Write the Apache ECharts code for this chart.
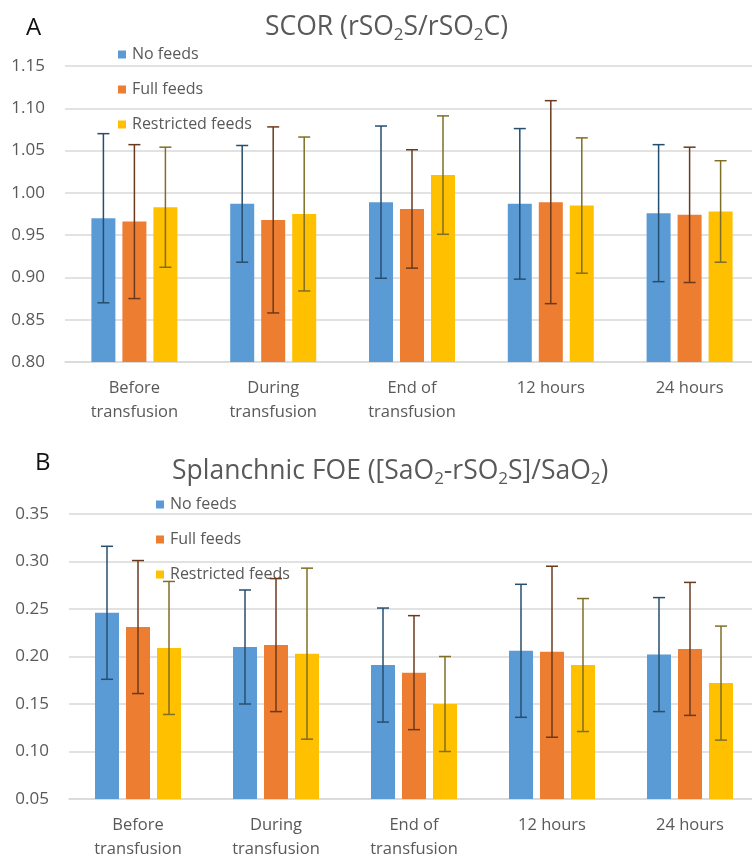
<!DOCTYPE html>
<html>
<head>
<meta charset="utf-8">
<style>
  html, body { margin: 0; padding: 0; background: #fff; }
  #chart { width: 752px; height: 857px; }
</style>
<script src="https://cdn.jsdelivr.net/npm/echarts@6/dist/echarts.min.js"></script>
</head>
<body>
<div id="chart"></div>
<script>
// categories and group names
const categories = ['Before\ntransfusion', 'During\ntransfusion', 'End of\ntransfusion', '12 hours', '24 hours'];
const groups = ['No feeds', 'Full feeds', 'Restricted feeds'];

// panel A: SCOR means and SD
const scorNo = [0.970, 0.987, 0.989, 0.987, 0.976];
const scorFull = [0.966, 0.968, 0.981, 0.989, 0.974];
const scorRestr = [0.983, 0.975, 1.021, 0.985, 0.978];
const scorNoSd = [0.100, 0.069, 0.090, 0.089, 0.081];
const scorFullSd = [0.091, 0.110, 0.070, 0.120, 0.080];
const scorRestrSd = [0.071, 0.091, 0.070, 0.080, 0.060];

// panel B: splanchnic FOE means and SD
const foeNo = [0.246, 0.210, 0.191, 0.206, 0.202];
const foeFull = [0.231, 0.212, 0.183, 0.205, 0.208];
const foeRestr = [0.209, 0.203, 0.150, 0.191, 0.172];
const foeNoSd = [0.070, 0.060, 0.060, 0.070, 0.060];
const foeFullSd = [0.070, 0.070, 0.060, 0.090, 0.070];
const foeRestrSd = [0.070, 0.090, 0.050, 0.070, 0.060];

const colors = ['#5B9BD5', '#ED7D31', '#FFC000'];
const errColors = ['#264E6E', '#6B3A1C', '#7F6E26'];
const FONT = 'Open Sans';
const BAR_W = 24, BAR_GAP = 7;

const myChart = echarts.init(document.getElementById('chart'));

function errRender(slot) {
    const offset = (slot - 1) * (BAR_W + BAR_GAP);
    return function (params, api) {
        const i = api.value(0);
        const top = api.coord([i, api.value(2)]);
        const bot = api.coord([i, api.value(1)]);
        const x = top[0] + offset;
        const st = { stroke: errColors[slot], lineWidth: 1.5 };
        return {
            type: 'group',
            children: [
                { type: 'line', shape: { x1: x, y1: top[1], x2: x, y2: bot[1] }, style: st },
                { type: 'line', shape: { x1: x - 6, y1: top[1], x2: x + 6, y2: top[1] }, style: st },
                { type: 'line', shape: { x1: x - 6, y1: bot[1], x2: x + 6, y2: bot[1] }, style: st }
            ]
        };
    };
}

function barSeries(name, values, slot, axis) {
    return {
        name: name, type: 'bar', xAxisIndex: axis, yAxisIndex: axis,
        data: values, barWidth: BAR_W, barGap: (BAR_GAP / BAR_W * 100) + '%',
        itemStyle: { color: colors[slot] }
    };
}

function errSeries(values, sds, slot, axis) {
    return {
        type: 'custom', xAxisIndex: axis, yAxisIndex: axis, z: 5,
        renderItem: errRender(slot),
        encode: { x: 0, y: [1, 2] },
        data: values.map((v, i) => [i, v - sds[i], v + sds[i]]),
        silent: true
    };
}

const titleRich = {
    a: { fontFamily: FONT, fontSize: 26.5, fontWeight: 'normal', color: '#595959', lineHeight: 32 },
    s: { fontFamily: FONT, fontSize: 17, fontWeight: 'normal', color: '#595959', lineHeight: 18, padding: [16, 0, 0, 0] }
};

function xAxisFor(idx) {
    return {
        type: 'category', gridIndex: idx, data: categories,
        axisTick: { show: false },
        axisLine: { lineStyle: { color: '#D9D9D9', width: 1.5 } },
        axisLabel: { color: '#595959', fontFamily: FONT, fontSize: 16.5, lineHeight: 24, margin: 14 }
    };
}

function yAxisFor(idx, min, max) {
    return {
        type: 'value', gridIndex: idx, min: min, max: max, interval: 0.05,
        axisLine: { show: false }, axisTick: { show: false },
        splitLine: { lineStyle: { color: '#D9D9D9', width: 1.5 } },
        axisLabel: { color: '#595959', fontFamily: FONT, fontSize: 17, margin: 20,
            formatter: v => v.toFixed(2) }
    };
}

function legendFor(left, top) {
    return {
        orient: 'vertical', left: left, top: top, data: groups,
        itemWidth: 8, itemHeight: 8, itemGap: 18, icon: 'rect',
        textStyle: { color: '#595959', fontFamily: FONT, fontSize: 16, lineHeight: 17, padding: [0, 0, 0, 1] }
    };
}

const option = {
    animation: false,
    backgroundColor: '#fff',
    title: [
        { text: 'A', left: 21, top: 11, textStyle: { fontFamily: FONT, fontSize: 24, fontWeight: 'normal', color: '#111' } },
        { text: '{a|SCOR (rSO}{s|2}{a|S/rSO}{s|2}{a|C)}', left: 260, top: 6, textStyle: { rich: titleRich } },
        { text: 'B', left: 30, top: 446, textStyle: { fontFamily: FONT, fontSize: 24, fontWeight: 'normal', color: '#111' } },
        { text: '{a|Splanchnic FOE ([SaO}{s|2}{a|-rSO}{s|2}{a|S]/SaO}{s|2}{a|)}', left: 167, top: 450, textStyle: { rich: titleRich } }
    ],
    legend: [legendFor(113, 41), legendFor(151, 491)],
    grid: [
        { left: 65, right: -7, top: 66, height: 296, outerBoundsMode: 'none' },
        { left: 69, right: -7, top: 514, height: 285, outerBoundsMode: 'none' }
    ],
    xAxis: [xAxisFor(0), xAxisFor(1)],
    yAxis: [yAxisFor(0, 0.8, 1.15), yAxisFor(1, 0.05, 0.35)],
    series: [
        barSeries(groups[0], scorNo, 0, 0),
        barSeries(groups[1], scorFull, 1, 0),
        barSeries(groups[2], scorRestr, 2, 0),
        errSeries(scorNo, scorNoSd, 0, 0),
        errSeries(scorFull, scorFullSd, 1, 0),
        errSeries(scorRestr, scorRestrSd, 2, 0),
        barSeries(groups[0], foeNo, 0, 1),
        barSeries(groups[1], foeFull, 1, 1),
        barSeries(groups[2], foeRestr, 2, 1),
        errSeries(foeNo, foeNoSd, 0, 1),
        errSeries(foeFull, foeFullSd, 1, 1),
        errSeries(foeRestr, foeRestrSd, 2, 1)
    ]
};
myChart.setOption(option);
window.addEventListener('resize', function () {
    myChart.resize();
});
</script>
</body>
</html>
